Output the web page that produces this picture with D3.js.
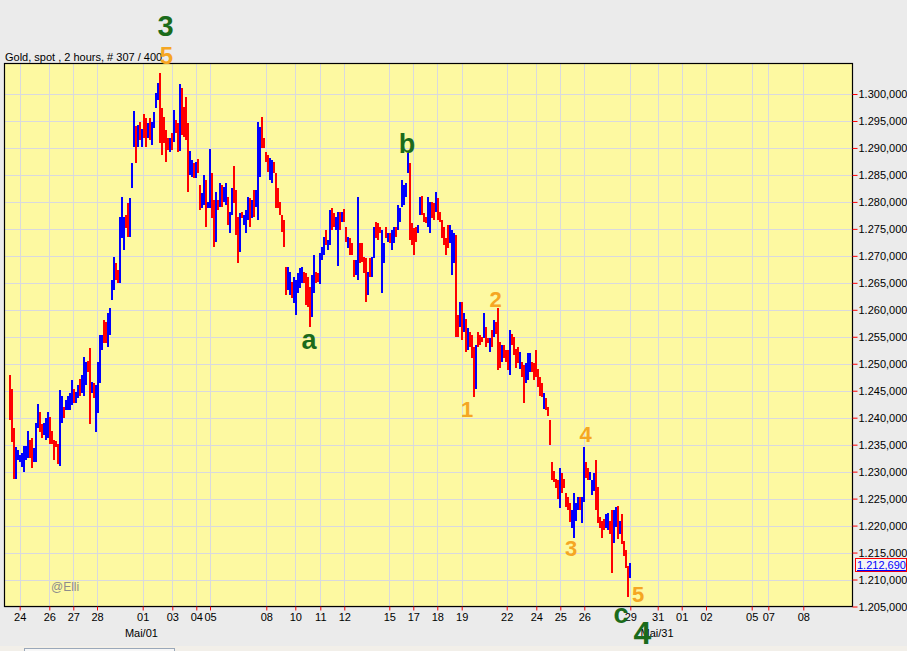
<!DOCTYPE html>
<html><head><meta charset="utf-8">
<script src="https://cdn.jsdelivr.net/npm/d3@7"></script>
<style>body{margin:0;background:#ebebeb;} svg{display:block;font-family:Arial,"Liberation Sans",sans-serif;}</style>
</head><body><svg id="c" width="907" height="651"></svg>
<script>
// ---- data (2-hour bars, Gold spot) ----
const high = [
1248.0,1245.4,1238.0,1234.5,1234.1,1233.0,1233.4,1234.7,1234.7,1237.6,
1235.8,1236.2,1234.3,1239.1,1242.5,1241.0,1238.9,1239.1,1239.9,1241.0,
1240.2,1237.6,1235.8,1235.6,1235.2,1245.1,1244.1,1241.9,1243.2,1244.1,
1244.5,1246.9,1245.4,1244.7,1246.0,1247.1,1247.9,1251.2,1250.3,1250.6,
1252.9,1246.6,1246.4,1246.0,1250.3,1255.3,1255.3,1258.1,1257.7,1259.4,
1260.3,1265.5,1269.8,1268.6,1267.3,1277.2,1280.9,1277.2,1277.5,1279.8,
1280.7,1287.2,1296.8,1294.1,1294.3,1294.8,1293.5,1296.3,1295.6,1294.6,
1295.6,1294.8,1296.7,1300.2,1302.0,1303.9,1297.4,1295.7,1293.3,1291.8,
1291.8,1292.8,1297.0,1295.2,1294.6,1301.9,1301.1,1297.6,1299.4,1294.6,
1289.4,1287.8,1287.2,1287.4,1287.9,1283.1,1281.6,1285.0,1284.0,1280.0,
1289.8,1285.3,1280.3,1281.8,1280.3,1283.5,1283.1,1282.7,1283.5,1280.9,
1278.1,1282.5,1286.6,1282.2,1277.2,1277.9,1278.1,1277.5,1278.5,1280.9,
1280.7,1280.3,1282.2,1282.2,1294.8,1293.9,1295.7,1291.8,1289.2,1288.7,
1288.1,1287.8,1287.4,1285.3,1282.6,1280.0,1277.5,1276.6,1267.9,1267.9,
1267.0,1265.1,1266.0,1265.5,1266.8,1267.7,1267.9,1267.0,1266.8,1266.0,
1264.2,1266.4,1270.1,1267.0,1266.8,1270.5,1271.6,1273.5,1274.8,1272.9,
1278.5,1278.9,1277.9,1277.2,1278.1,1278.1,1278.1,1278.7,1275.3,1273.5,
1273.3,1272.4,1269.2,1269.2,1280.9,1272.4,1272.4,1269.8,1269.6,1267.0,
1269.6,1269.8,1275.3,1276.3,1276.1,1275.3,1274.8,1272.4,1275.3,1274.2,
1274.2,1274.8,1275.3,1275.3,1279.4,1278.9,1284.0,1283.1,1283.5,1289.1,
1287.2,1276.1,1275.1,1275.3,1275.7,1280.9,1281.1,1277.9,1277.2,1280.9,
1280.0,1280.0,1279.8,1281.8,1280.7,1278.1,1276.6,1275.3,1273.3,1275.7,
1275.7,1274.8,1274.2,1273.8,1259.0,1261.4,1261.4,1259.4,1258.2,1256.6,
1255.8,1255.3,1253.1,1253.4,1255.8,1255.3,1254.9,1259.4,1256.8,1254.7,
1254.7,1256.2,1258.1,1257.7,1260.3,1254.0,1253.4,1253.4,1252.5,1252.5,
1256.2,1255.6,1254.9,1252.7,1253.1,1252.1,1250.3,1249.7,1250.1,1251.9,
1251.9,1250.3,1250.1,1252.5,1249.1,1247.5,1246.4,1244.5,1243.6,1241.9,
1239.5,1231.7,1230.2,1228.7,1228.4,1230.6,1229.7,1228.7,1226.0,1225.3,
1224.1,1222.8,1226.0,1224.1,1225.3,1225.3,1225.3,1234.5,1231.7,1230.6,
1229.9,1228.4,1229.7,1232.1,1227.1,1221.5,1220.9,1221.3,1222.2,1222.4,
1220.9,1222.8,1222.8,1223.4,1223.7,1220.9,1222.2,1217.2,1215.4,1212.6,1213.1
];
const low = [
1239.5,1235.4,1228.7,1228.6,1232.1,1231.7,1230.8,1229.9,1232.1,1232.5,
1232.6,1230.6,1231.7,1231.7,1238.0,1237.3,1236.2,1236.7,1235.8,1236.2,
1235.2,1235.2,1232.1,1234.5,1231.5,1231.1,1239.1,1239.9,1241.4,1241.4,
1241.4,1242.3,1242.8,1242.7,1243.6,1244.1,1244.5,1244.1,1246.0,1248.4,
1238.9,1244.5,1243.6,1237.3,1240.8,1246.4,1252.5,1253.8,1253.8,1253.1,
1255.3,1261.8,1263.6,1265.5,1264.9,1264.9,1273.3,1271.1,1275.1,1273.5,
1273.5,1282.6,1290.2,1287.2,1290.2,1291.5,1290.2,1291.8,1290.2,1291.8,
1291.5,1290.5,1293.7,1297.4,1298.9,1290.9,1288.7,1290.9,1287.4,1289.6,
1289.2,1289.6,1291.1,1292.8,1289.2,1289.4,1292.4,1292.0,1291.5,1281.8,
1285.0,1284.6,1284.4,1284.4,1285.3,1278.5,1278.9,1279.4,1275.3,1278.9,
1278.9,1277.0,1271.6,1272.5,1278.5,1279.0,1279.0,1280.0,1279.4,1275.7,
1274.2,1277.5,1279.8,1273.8,1268.6,1270.7,1277.0,1275.7,1274.2,1276.6,
1275.3,1277.0,1277.2,1279.0,1276.6,1284.6,1290.0,1290.0,1287.4,1285.5,
1284.0,1283.5,1285.3,1278.9,1278.9,1277.5,1274.4,1271.6,1262.7,1263.6,
1262.7,1262.1,1261.2,1259.0,1263.1,1264.0,1264.9,1264.9,1260.8,1260.5,
1256.8,1258.6,1263.1,1264.9,1265.1,1264.7,1269.2,1270.1,1272.0,1271.1,
1272.0,1274.8,1275.3,1274.8,1268.1,1274.8,1276.3,1276.3,1272.5,1271.4,
1270.1,1270.1,1266.0,1266.4,1265.5,1268.6,1268.8,1266.8,1261.4,1262.7,
1266.0,1266.0,1269.6,1273.3,1272.9,1274.2,1263.1,1268.6,1273.3,1272.5,
1272.4,1271.1,1272.4,1273.5,1274.8,1276.3,1279.0,1279.4,1280.9,1285.3,
1272.9,1272.0,1270.1,1272.5,1274.2,1277.5,1277.5,1276.3,1276.1,1275.3,
1274.2,1277.0,1276.6,1278.1,1276.6,1276.3,1273.3,1272.0,1270.1,1271.4,
1272.4,1266.4,1268.6,1254.9,1254.9,1256.8,1254.4,1255.8,1252.1,1252.5,
1253.1,1251.0,1243.8,1245.4,1253.1,1253.4,1254.0,1254.7,1253.1,1253.8,
1252.1,1253.1,1254.9,1255.6,1248.8,1249.3,1250.3,1251.0,1250.3,1248.8,
1247.9,1253.4,1251.6,1249.3,1250.1,1249.0,1247.5,1242.8,1246.4,1246.9,
1248.4,1248.4,1246.9,1247.5,1245.6,1244.1,1243.8,1241.7,1241.4,1240.4,
1234.9,1228.4,1228.0,1226.9,1225.0,1223.2,1226.0,1226.9,1223.4,1222.8,
1220.6,1219.5,1217.7,1220.9,1222.8,1222.8,1220.4,1224.3,1228.9,1228.4,
1228.4,1225.6,1226.5,1222.8,1220.4,1219.5,1217.7,1219.1,1219.5,1219.1,
1218.5,1211.3,1216.8,1219.7,1217.6,1218.5,1216.6,1214.4,1212.2,1206.7,1210.2
];
// bar direction: b = up (blue), r = down (red)
const dirs = "rrrbbbbbbb"+"rrbbbrrbbb"+"rrrrrbbrbb"+"bbrbbrbbbr"+"rbrbbbbrrb"+"bbbrrbbbrr"+"bbbrbrbrrb"+"rbbbbrrrrr"+"brbrrbrrrr"+"bbrbrrbbrb"+
 "brrbrbrbbr"+"bbrrrbrbbb"+"rbrbbbrrrr"+"bbrrrrrrrb"+"brbbbbbrrr"+"rbbrrbbbrb"+"brrbbrbrrb"+"rrrbbrrrrb"+"rbbrrrbbrb"+"rbbrbbbbbb"+
 "rrrrbbrrrb"+"brrbrrrrrr"+"bbbrrbrbrb"+"rrrbrrrbrr"+"brbrrrbrrr"+"brrrrbrrbb"+"brrrrrrbrr"+"rrrrrbrrrr"+"rbbbbrbbrr"+"bbbrrrrrbb"+"rrbbrbrrrrb";

const priceTicks = [1205,1210,1215,1220,1225,1230,1235,1240,1245,1250,1255,1260,1265,1270,1275,1280,1285,1290,1295,1300];
const dateLabels = ["24","26","27","28","01","03","04","05","08","10","11","12","15","17","18","19","22","24","25","26","29","31","01","02","05","07","08"];
const dateIdx = [5.35,20.15,32.15,44,66.85,81.65,93.65,100.5,128.65,143.15,155.65,167.65,190.15,202.15,214.15,226.35,248.85,263.65,275.65,287.65,310.65,324.35,336.35,348.5,371.35,379.65,397.15];
const monthLabels = ["Mai/01","Mai/31"];
const monthIdx = [66.2,324.0];
const lastPrice = 1212.690;

// wave annotations
const annText  = ["3","5","a","b","1","2","3","4","5","c","4"];
const annIdx   = [78.25,78.75,150,199,229,243.35,281,288.25,314.5,306,316.75];
const annPrice = [1310.76,1305.57,1252.68,1289.05,1240.06,1260.53,1214.27,1235.42,1205.79,1202.02,1198.13];
const annWave  = ["g","o","g","g","o","o","o","o","o","g","g"];

// ---- drawing ----
const W=907,H=651;
const P={l:4.5,t:63.5,r:852.5,b:606.5};
const svg=d3.select("#c");
const green="#1b6b1b", orange="#f5a623";
const fmt=d3.formatLocale({decimal:",",thousands:".",grouping:[3],currency:["",""]}).format(",.3f");

svg.append("rect").attr("width",W).attr("height",H).attr("fill","#ebebeb");
svg.append("rect").attr("x",0).attr("y",646).attr("width",W).attr("height",5).attr("fill","#f2efe9");
svg.append("rect").attr("x",24.5).attr("y",648.5).attr("width",150).attr("height",8).attr("fill","#f7f7f7").attr("stroke","#9aa8ba");

const y=d3.scaleLinear().domain([1205,1300]).range([606.5,94]);
const x=d3.scaleLinear().domain([0,310]).range([9,629]);

svg.append("rect").attr("x",P.l).attr("y",P.t).attr("width",P.r-P.l).attr("height",P.b-P.t).attr("fill","#fdf9a1");

const grid=svg.append("g").attr("stroke","#d9d9de").attr("stroke-width",1);
priceTicks.forEach(v=>{
  const yy=Math.round(y(v))+0.5;
  grid.append("line").attr("x1",P.l).attr("x2",P.r).attr("y1",yy).attr("y2",yy);
});
dateIdx.forEach(d=>{
  const xx=Math.round(x(d))+0.5;
  grid.append("line").attr("x1",xx).attr("x2",xx).attr("y1",P.t).attr("y2",P.b);
});

// bars
svg.append("g").selectAll("rect").data(high.map((h,i)=>({i,h,l:low[i],d:dirs[i]})))
  .join("rect")
  .attr("x",d=>x(d.i)).attr("width",2)
  .attr("y",d=>Math.round(y(d.h)))
  .attr("height",d=>Math.max(2,Math.round(y(d.l))-Math.round(y(d.h))))
  .attr("fill",d=>d.d==="b"?"#0000ff":"#ff0000");

// border
svg.append("rect").attr("x",P.l).attr("y",P.t).attr("width",P.r-P.l).attr("height",P.b-P.t)
  .attr("fill","none").attr("stroke","#000").attr("stroke-width",1.2);

// right axis
const ya=svg.append("g").attr("transform",`translate(${P.r},0)`)
  .call(d3.axisRight(y).tickValues(priceTicks).tickFormat(fmt).tickSize(5).tickPadding(1));
ya.select(".domain").remove();
ya.selectAll(".tick line").attr("stroke","#ff0000");
ya.selectAll(".tick text").attr("fill","#000").attr("font-size",11).attr("font-family","Arial, Liberation Sans, sans-serif");

// bottom axis
const xa=svg.append("g").attr("transform",`translate(0,${P.b})`)
  .call(d3.axisBottom(x).tickValues(dateIdx).tickFormat((d,i)=>dateLabels[i]).tickSize(4).tickPadding(3));
xa.select(".domain").remove();
xa.selectAll(".tick line").attr("stroke","#ff0000");
xa.selectAll(".tick text").attr("fill","#000").attr("font-size",11).attr("font-family","Arial, Liberation Sans, sans-serif");

monthLabels.forEach((m,i)=>{
  svg.append("text").attr("x",x(monthIdx[i])).attr("y",637).attr("text-anchor","middle")
    .attr("font-size",11).attr("fill","#000").text(m);
});

// title
svg.append("text").attr("x",5).attr("y",60.5).attr("font-size",11).attr("fill","#000")
  .text("Gold, spot , 2 hours, # 307 / 400");

// watermark
svg.append("text").attr("x",51).attr("y",591).attr("font-size",12).attr("fill","#8c8c8c").text("@Elli");

// last price box
const ly=y(lastPrice);
svg.append("rect").attr("x",855.5).attr("y",Math.round(ly)-6.5).attr("width",51).attr("height",13)
  .attr("fill","#f4f4f4").attr("stroke","#ff0000");
svg.append("text").attr("x",857).attr("y",Math.round(ly)+4).attr("font-size",11).attr("fill","#0000ff")
  .attr("text-decoration","underline").text(fmt(lastPrice));

// wave labels
annText.forEach((t,i)=>{
  const g=annWave[i]==="g";
  let fs = g ? 27 : 22;
  if(t==="4"&&g) fs=32;
  if(t==="3"&&g) fs=29;
  if(i===1) fs=24;
  svg.append("text").attr("x",x(annIdx[i])).attr("y",y(annPrice[i]))
    .attr("text-anchor","middle").attr("font-size",fs).attr("font-weight","bold")
    .attr("fill",g?green:orange).text(t);
});
</script></body></html>
